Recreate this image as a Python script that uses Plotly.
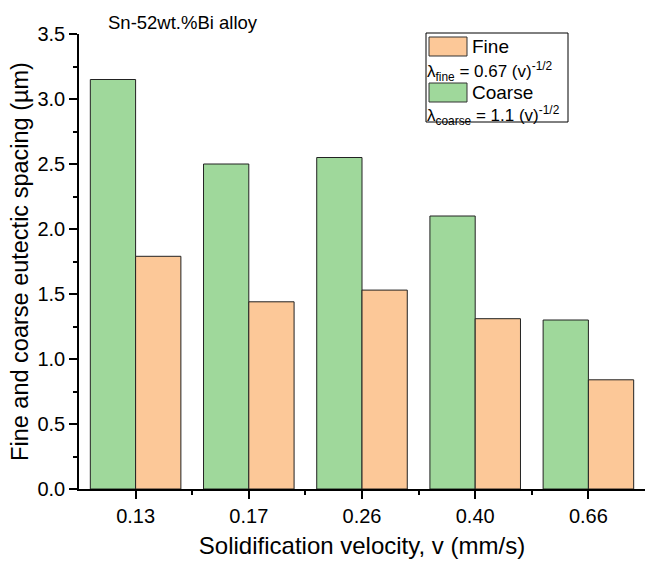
import plotly.graph_objects as go

categories = ["0.13", "0.17", "0.26", "0.40", "0.66"]
coarse = [3.15, 2.50, 2.55, 2.10, 1.30]
fine = [1.79, 1.44, 1.53, 1.31, 0.84]

W, H = 645, 565
L, R, T, B = 79, 0, 34, 76
PW, PH = W - L - R, H - T - B

def px(x):
    return (x - L) / PW

def py(y):
    return (H - B - y) / PH

FONT = "Liberation Sans, Arial, sans-serif"
GREEN = "#9fd89b"
ORANGE = "#fcc898"

xs = list(range(len(categories)))

fig = go.Figure()
fig.add_trace(go.Bar(x=xs, y=coarse, name="Coarse", marker=dict(color=GREEN, line=dict(color="#222", width=1))))
fig.add_trace(go.Bar(x=xs, y=fine, name="Fine", marker=dict(color=ORANGE, line=dict(color="#222", width=1))))

fig.update_layout(
    width=W, height=H,
    margin=dict(l=L, r=R, t=T, b=B, pad=0, autoexpand=False),
    plot_bgcolor="white", paper_bgcolor="white",
    barmode="group", bargap=0.2, bargroupgap=0,
    showlegend=False,
    font=dict(family=FONT, size=19, color="black"),
)
fig.update_xaxes(
    automargin=False,
    range=[-0.5, len(categories) - 0.5],
    tickvals=xs, ticktext=categories,
    ticks="outside", ticklen=8, tickwidth=1.5, tickcolor="black",
    showline=True, linecolor="black", linewidth=1.5,
    showgrid=False, zeroline=False,
    minor=dict(tickvals=[i + 0.5 for i in xs[:-1]], ticks="outside", ticklen=4, tickwidth=1.5, tickcolor="black"),
    title=dict(text="Solidification velocity, v (mm/s)", font=dict(size=24), standoff=11),
    tickfont=dict(size=20),
)
fig.update_yaxes(
    automargin=False,
    range=[0, 3.5], dtick=0.5, tick0=0, tickformat=".1f",
    ticks="outside", ticklen=8, tickwidth=1.5, tickcolor="black",
    showline=True, linecolor="black", linewidth=1.5,
    showgrid=False, zeroline=False,
    minor=dict(dtick=0.25, ticks="outside", ticklen=4, tickwidth=1.5, tickcolor="black"),
    title=dict(text="Fine and coarse eutectic spacing (\u00b5m)", font=dict(size=23.5), standoff=2),
    tickfont=dict(size=20),
)

# corner label
fig.add_annotation(x=px(106), y=py(22), xref="paper", yref="paper", xanchor="left", yanchor="middle",
                   text="Sn-52wt.%Bi alloy", showarrow=False, font=dict(size=18.5))

# manual legend
fig.add_shape(type="rect", xref="paper", yref="paper", x0=px(426), x1=px(568), y0=py(122), y1=py(33),
              line=dict(color="black", width=1), fillcolor="white")
fig.add_shape(type="rect", xref="paper", yref="paper", x0=px(429), x1=px(467), y0=py(56), y1=py(37),
              line=dict(color="#333", width=1), fillcolor=ORANGE)
fig.add_shape(type="rect", xref="paper", yref="paper", x0=px(429), x1=px(467), y0=py(102), y1=py(83),
              line=dict(color="#333", width=1), fillcolor=GREEN)
fig.add_annotation(x=px(470), y=py(46), xref="paper", yref="paper", xanchor="left", yanchor="middle",
                   text="Fine", showarrow=False, font=dict(size=19))
fig.add_annotation(x=px(470), y=py(92), xref="paper", yref="paper", xanchor="left", yanchor="middle",
                   text="Coarse", showarrow=False, font=dict(size=19))
fig.add_annotation(x=px(425), y=py(71), xref="paper", yref="paper", xanchor="left", yanchor="middle",
                   text="\u03bb<sub>fine</sub> = 0.67 (v)<sup>-1/2</sup>", showarrow=False, font=dict(size=17))
fig.add_annotation(x=px(425), y=py(115), xref="paper", yref="paper", xanchor="left", yanchor="middle",
                   text="\u03bb<sub>coarse</sub> = 1.1 (v)<sup>-1/2</sup>", showarrow=False, font=dict(size=17))

fig.write_html("out.html", config={"displayModeBar": False},
               post_script="document.body.style.margin='0';document.body.style.overflow='hidden';")
